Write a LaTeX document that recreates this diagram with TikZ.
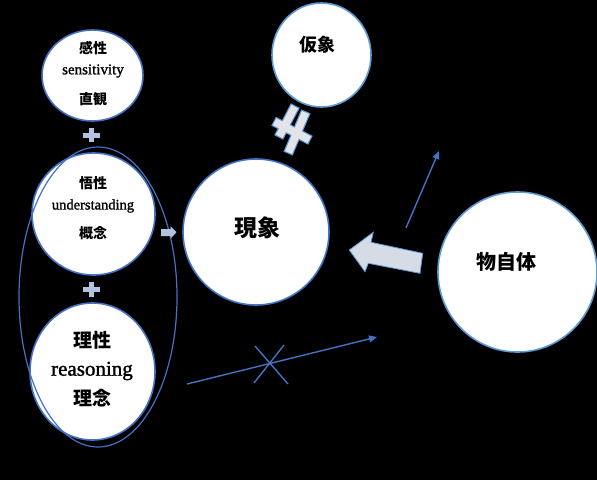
\documentclass[tikz,border=0pt]{standalone}
\usepackage{fontspec}
\setmainfont{Liberation Serif}
\newfontfamily\enfont{Liberation Serif}[FakeBold=1.3]
\newfontfamily\cjk{Noto Sans CJK JP}
\usetikzlibrary{shapes.geometric,arrows.meta}

\definecolor{bord}{HTML}{4472C4}
\definecolor{lbord}{HTML}{5B9BD5}
\definecolor{plusc}{HTML}{B4C2E2}
\definecolor{bigarr}{HTML}{D6DCE5}
\definecolor{necol}{HTML}{E4E4E8}

\begin{document}
\begin{tikzpicture}[x=1pt,y=-1pt,
  circ/.style={ellipse,draw=bord,line width=1.6pt,fill=white,inner sep=0pt},
  lcirc/.style={circ,draw=lbord},
  jp/.style={font=\cjk\bfseries\fontsize{#1}{#1}\selectfont,inner sep=0pt},
  en/.style={font=\enfont\fontsize{#1}{#1}\selectfont,inner sep=0pt},
  thinarr/.style={draw=bord,line width=1.4pt,-{Triangle[length=8pt,width=7pt]}},
  plusfill/.style={fill=plusc},
  nebar/.style={line cap=rect}
]
\fill[black] (0,0) rectangle (597,480);
\useasboundingbox (0,0) rectangle (597,480);

% circles
\node[circ,minimum width=101pt,minimum height=91pt] (sens) at (92.5,75.5) {};
\node[circ,minimum width=123pt,minimum height=122pt] (und) at (93.5,214) {};
\node[circ,minimum width=125pt,minimum height=137pt] (reas) at (92.5,371.5) {};
\node[circ,minimum width=146pt,minimum height=146pt] (phen) at (256,232) {};
\node[lcirc,minimum width=99pt,minimum height=104pt] (illu) at (321.5,55) {};
\node[lcirc,minimum width=159pt,minimum height=160pt] (thing) at (517.5,272) {};

% group ellipse
\node[ellipse,draw=bord,line width=1.2pt,minimum width=158pt,minimum height=300pt,inner sep=0pt] (group) at (98,297) {};

% texts
\node[jp=14] (t1a) at (93,48) {感性};
\node[en=15] (t1b) at (93,71) {sensitivity};
\node[jp=14] (t1c) at (93,99) {直観};
\node[jp=14] (t2a) at (93,183) {悟性};
\node[en=14.5] (t2b) at (93,206) {understanding};
\node[jp=14] (t2c) at (93,233) {概念};
\node[jp=19] (t3a) at (92,340) {理性};
\node[en=21] (t3b) at (92,371) {reasoning};
\node[jp=19] (t3c) at (92,398) {理念};
\node[jp=23] (tphen) at (257,228) {現象};
\node[jp=18] (tillu) at (317,45) {仮象};
\node[jp=20] (tthing) at (506,262) {物自体};

% plus signs
\fill[plusfill] (83.3,132.5) rectangle (100,137.5);
\fill[plusfill] (89.2,128.3) rectangle (94.2,141.7);
\fill[plusfill] (83.3,286.7) rectangle (100,291.7);
\fill[plusfill] (89.2,281.7) rectangle (94.2,296.7);

% small arrow und -> phen
\fill[plusfill] (161,229) -- (170.5,229) -- (170.5,226) -- (176.5,232.2)
  -- (170.5,238.5) -- (170.5,236) -- (161,236) -- cycle;

% big arrow thing -> phen
\filldraw[fill=bigarr,draw=lbord,line width=0.8pt]
  (349.3,250) -- (373.3,232.3) -- (371,242.3) -- (422.7,253.3)
  -- (420,273.3) -- (368.3,263.3) -- (365,271.7) -- cycle;

% not-equal sign between illu and phen
\coordinate (nA1) at (293,110);
\coordinate (nA2) at (281,133);
\coordinate (nB1) at (304,116);
\coordinate (nB2) at (290,149);
\coordinate (nC1) at (278,123.5);
\coordinate (nC2) at (306,138);
\begin{scope}[nebar]
\draw[lbord,line width=10pt] (nA1) -- (nA2) (nB1) -- (nB2) (nC1) -- (nC2);
\draw[necol,line width=7.6pt] (nA1) -- (nA2) (nB1) -- (nB2) (nC1) -- (nC2);
\end{scope}

% thin arrows
\coordinate (u1) at (406,228);
\coordinate (u2) at (439,151);
\draw[thinarr] (u1) -- (u2);
\coordinate (b1) at (187,384);
\coordinate (b2) at (377,337);
\draw[thinarr] (b1) -- (b2);
\coordinate (x1) at (255,346);
\coordinate (x2) at (288,384);
\coordinate (x3) at (284,345);
\coordinate (x4) at (254,383);
\draw[bord,line width=1.4pt] (x1) -- (x2) (x3) -- (x4);
\end{tikzpicture}
\end{document}
